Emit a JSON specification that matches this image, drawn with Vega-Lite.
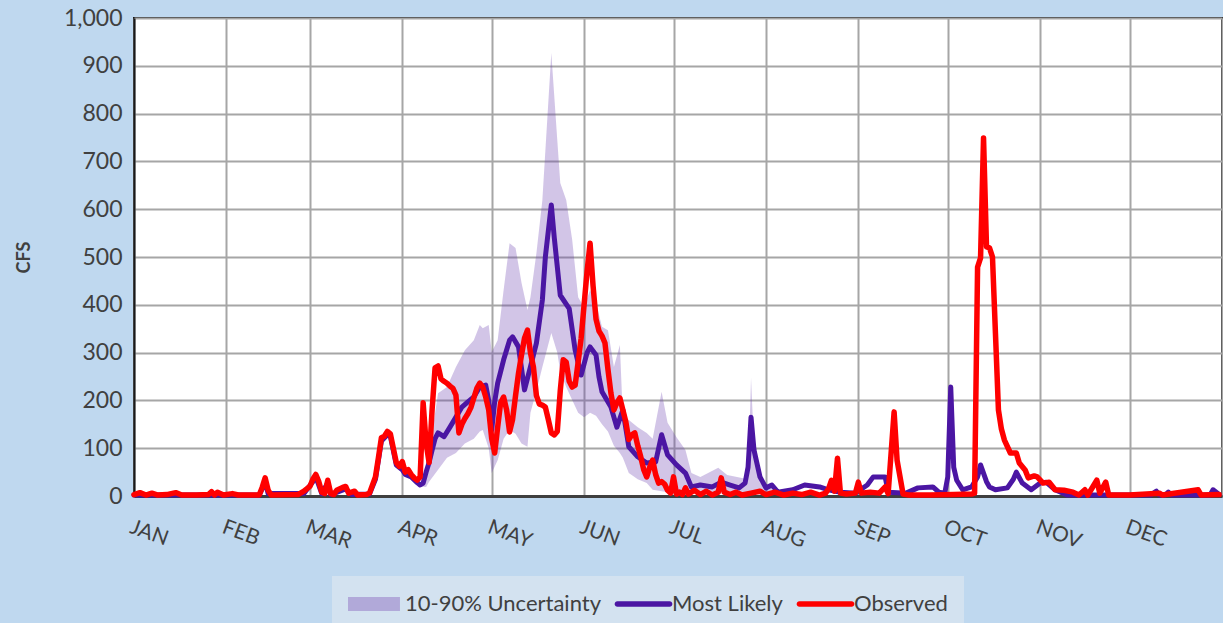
{
  "$schema": "https://vega.github.io/schema/vega-lite/v6.json",
  "width": 1088,
  "height": 478,
  "autosize": "none",
  "padding": {"left": 134, "top": 18, "right": 1, "bottom": 127},
  "background": "#bfd8ef",
  "title": {"text": "Heron Inflow", "fontSize": 40, "fontWeight": "bold", "color": "#404040", "font": "Lato", "anchor": "middle", "frame": "group", "baseline": "bottom", "offset": 0, "dy": 30, "dx": -43},
  "config": {
    "view": {"fill": "white", "stroke": "#1a1a1a", "strokeWidth": 2},
    "font": "Lato"
  },
  "datasets": {
    "obs": [
      {"date": "2023-01-01", "cfs": 3}, {"date": "2023-01-03", "cfs": 7}, {"date": "2023-01-05", "cfs": 2}, {"date": "2023-01-07", "cfs": 6}, {"date": "2023-01-09", "cfs": 2}, {"date": "2023-01-12", "cfs": 3}, {"date": "2023-01-15", "cfs": 7}, {"date": "2023-01-17", "cfs": 2}, {"date": "2023-01-22", "cfs": 2}, {"date": "2023-01-26", "cfs": 3}, {"date": "2023-01-27", "cfs": 9}, {"date": "2023-01-28", "cfs": 2}, {"date": "2023-01-29", "cfs": 8}, {"date": "2023-01-31", "cfs": 2},
      {"date": "2023-02-03", "cfs": 5}, {"date": "2023-02-05", "cfs": 2}, {"date": "2023-02-12", "cfs": 2}, {"date": "2023-02-13", "cfs": 18}, {"date": "2023-02-14", "cfs": 38}, {"date": "2023-02-15", "cfs": 12}, {"date": "2023-02-16", "cfs": 2}, {"date": "2023-02-25", "cfs": 3}, {"date": "2023-02-27", "cfs": 10},
      {"date": "2023-03-01", "cfs": 20}, {"date": "2023-03-02", "cfs": 35}, {"date": "2023-03-03", "cfs": 45}, {"date": "2023-03-04", "cfs": 30}, {"date": "2023-03-05", "cfs": 8}, {"date": "2023-03-06", "cfs": 5}, {"date": "2023-03-07", "cfs": 33}, {"date": "2023-03-08", "cfs": 5}, {"date": "2023-03-09", "cfs": 3}, {"date": "2023-03-10", "cfs": 12}, {"date": "2023-03-12", "cfs": 18}, {"date": "2023-03-13", "cfs": 20}, {"date": "2023-03-14", "cfs": 6}, {"date": "2023-03-16", "cfs": 10}, {"date": "2023-03-17", "cfs": 2}, {"date": "2023-03-20", "cfs": 3}, {"date": "2023-03-21", "cfs": 6}, {"date": "2023-03-23", "cfs": 40}, {"date": "2023-03-24", "cfs": 80}, {"date": "2023-03-25", "cfs": 122}, {"date": "2023-03-26", "cfs": 125}, {"date": "2023-03-27", "cfs": 135}, {"date": "2023-03-28", "cfs": 130}, {"date": "2023-03-29", "cfs": 100}, {"date": "2023-03-30", "cfs": 70}, {"date": "2023-03-31", "cfs": 62},
      {"date": "2023-04-01", "cfs": 72}, {"date": "2023-04-02", "cfs": 50}, {"date": "2023-04-03", "cfs": 55}, {"date": "2023-04-04", "cfs": 45}, {"date": "2023-04-05", "cfs": 38}, {"date": "2023-04-06", "cfs": 33}, {"date": "2023-04-07", "cfs": 40}, {"date": "2023-04-08", "cfs": 195}, {"date": "2023-04-09", "cfs": 110}, {"date": "2023-04-10", "cfs": 70}, {"date": "2023-04-11", "cfs": 180}, {"date": "2023-04-12", "cfs": 268}, {"date": "2023-04-13", "cfs": 272}, {"date": "2023-04-14", "cfs": 245}, {"date": "2023-04-15", "cfs": 240}, {"date": "2023-04-16", "cfs": 236}, {"date": "2023-04-17", "cfs": 230}, {"date": "2023-04-18", "cfs": 225}, {"date": "2023-04-19", "cfs": 211}, {"date": "2023-04-20", "cfs": 132}, {"date": "2023-04-21", "cfs": 150}, {"date": "2023-04-22", "cfs": 162}, {"date": "2023-04-23", "cfs": 172}, {"date": "2023-04-24", "cfs": 185}, {"date": "2023-04-25", "cfs": 205}, {"date": "2023-04-26", "cfs": 225}, {"date": "2023-04-27", "cfs": 236}, {"date": "2023-04-28", "cfs": 228}, {"date": "2023-04-29", "cfs": 207}, {"date": "2023-04-30", "cfs": 180},
      {"date": "2023-05-01", "cfs": 120}, {"date": "2023-05-02", "cfs": 90}, {"date": "2023-05-03", "cfs": 144}, {"date": "2023-05-04", "cfs": 195}, {"date": "2023-05-05", "cfs": 207}, {"date": "2023-05-06", "cfs": 180}, {"date": "2023-05-07", "cfs": 134}, {"date": "2023-05-08", "cfs": 160}, {"date": "2023-05-09", "cfs": 210}, {"date": "2023-05-10", "cfs": 257}, {"date": "2023-05-11", "cfs": 295}, {"date": "2023-05-12", "cfs": 330}, {"date": "2023-05-13", "cfs": 347}, {"date": "2023-05-14", "cfs": 300}, {"date": "2023-05-15", "cfs": 270}, {"date": "2023-05-16", "cfs": 210}, {"date": "2023-05-17", "cfs": 192}, {"date": "2023-05-18", "cfs": 190}, {"date": "2023-05-19", "cfs": 186}, {"date": "2023-05-20", "cfs": 160}, {"date": "2023-05-21", "cfs": 132}, {"date": "2023-05-22", "cfs": 128}, {"date": "2023-05-23", "cfs": 135}, {"date": "2023-05-24", "cfs": 220}, {"date": "2023-05-25", "cfs": 285}, {"date": "2023-05-26", "cfs": 280}, {"date": "2023-05-27", "cfs": 240}, {"date": "2023-05-28", "cfs": 228}, {"date": "2023-05-29", "cfs": 232}, {"date": "2023-05-30", "cfs": 280}, {"date": "2023-05-31", "cfs": 330},
      {"date": "2023-06-01", "cfs": 400}, {"date": "2023-06-02", "cfs": 470}, {"date": "2023-06-03", "cfs": 529}, {"date": "2023-06-04", "cfs": 440}, {"date": "2023-06-05", "cfs": 370}, {"date": "2023-06-06", "cfs": 345}, {"date": "2023-06-07", "cfs": 335}, {"date": "2023-06-08", "cfs": 320}, {"date": "2023-06-09", "cfs": 265}, {"date": "2023-06-10", "cfs": 215}, {"date": "2023-06-11", "cfs": 180}, {"date": "2023-06-12", "cfs": 195}, {"date": "2023-06-13", "cfs": 205}, {"date": "2023-06-14", "cfs": 180}, {"date": "2023-06-15", "cfs": 155}, {"date": "2023-06-16", "cfs": 118}, {"date": "2023-06-17", "cfs": 128}, {"date": "2023-06-18", "cfs": 132}, {"date": "2023-06-19", "cfs": 105}, {"date": "2023-06-20", "cfs": 82}, {"date": "2023-06-21", "cfs": 55}, {"date": "2023-06-22", "cfs": 40}, {"date": "2023-06-23", "cfs": 60}, {"date": "2023-06-24", "cfs": 75}, {"date": "2023-06-25", "cfs": 45}, {"date": "2023-06-26", "cfs": 27}, {"date": "2023-06-27", "cfs": 30}, {"date": "2023-06-28", "cfs": 25}, {"date": "2023-06-29", "cfs": 12}, {"date": "2023-06-30", "cfs": 6},
      {"date": "2023-07-01", "cfs": 40}, {"date": "2023-07-02", "cfs": 4}, {"date": "2023-07-03", "cfs": 8}, {"date": "2023-07-04", "cfs": 3}, {"date": "2023-07-05", "cfs": 17}, {"date": "2023-07-06", "cfs": 4}, {"date": "2023-07-08", "cfs": 12}, {"date": "2023-07-10", "cfs": 3}, {"date": "2023-07-12", "cfs": 10}, {"date": "2023-07-14", "cfs": 2}, {"date": "2023-07-16", "cfs": 8}, {"date": "2023-07-17", "cfs": 38}, {"date": "2023-07-18", "cfs": 8}, {"date": "2023-07-20", "cfs": 3}, {"date": "2023-07-22", "cfs": 8}, {"date": "2023-07-24", "cfs": 2}, {"date": "2023-07-27", "cfs": 6}, {"date": "2023-07-30", "cfs": 10},
      {"date": "2023-08-01", "cfs": 3}, {"date": "2023-08-04", "cfs": 8}, {"date": "2023-08-07", "cfs": 2}, {"date": "2023-08-10", "cfs": 6}, {"date": "2023-08-13", "cfs": 3}, {"date": "2023-08-16", "cfs": 8}, {"date": "2023-08-19", "cfs": 2}, {"date": "2023-08-21", "cfs": 6}, {"date": "2023-08-22", "cfs": 15}, {"date": "2023-08-23", "cfs": 33}, {"date": "2023-08-24", "cfs": 10}, {"date": "2023-08-25", "cfs": 79}, {"date": "2023-08-26", "cfs": 6}, {"date": "2023-08-28", "cfs": 4}, {"date": "2023-08-31", "cfs": 6},
      {"date": "2023-09-01", "cfs": 29}, {"date": "2023-09-02", "cfs": 6}, {"date": "2023-09-05", "cfs": 8}, {"date": "2023-09-08", "cfs": 6}, {"date": "2023-09-10", "cfs": 19}, {"date": "2023-09-11", "cfs": 5}, {"date": "2023-09-13", "cfs": 176}, {"date": "2023-09-14", "cfs": 75}, {"date": "2023-09-16", "cfs": 4}, {"date": "2023-09-18", "cfs": 2}, {"date": "2023-09-25", "cfs": 2},
      {"date": "2023-10-03", "cfs": 3}, {"date": "2023-10-09", "cfs": 4}, {"date": "2023-10-10", "cfs": 6}, {"date": "2023-10-11", "cfs": 479}, {"date": "2023-10-12", "cfs": 498}, {"date": "2023-10-13", "cfs": 749}, {"date": "2023-10-14", "cfs": 521}, {"date": "2023-10-15", "cfs": 519}, {"date": "2023-10-16", "cfs": 500}, {"date": "2023-10-17", "cfs": 340}, {"date": "2023-10-18", "cfs": 180}, {"date": "2023-10-19", "cfs": 140}, {"date": "2023-10-20", "cfs": 117}, {"date": "2023-10-22", "cfs": 90}, {"date": "2023-10-24", "cfs": 90}, {"date": "2023-10-25", "cfs": 69}, {"date": "2023-10-27", "cfs": 54}, {"date": "2023-10-28", "cfs": 38}, {"date": "2023-10-30", "cfs": 42}, {"date": "2023-10-31", "cfs": 40},
      {"date": "2023-11-02", "cfs": 27}, {"date": "2023-11-04", "cfs": 29}, {"date": "2023-11-06", "cfs": 13}, {"date": "2023-11-09", "cfs": 12}, {"date": "2023-11-12", "cfs": 8}, {"date": "2023-11-14", "cfs": 2}, {"date": "2023-11-16", "cfs": 13}, {"date": "2023-11-17", "cfs": 2}, {"date": "2023-11-20", "cfs": 33}, {"date": "2023-11-21", "cfs": 6}, {"date": "2023-11-23", "cfs": 29}, {"date": "2023-11-24", "cfs": 2},
      {"date": "2023-12-01", "cfs": 2}, {"date": "2023-12-11", "cfs": 6}, {"date": "2023-12-12", "cfs": 2}, {"date": "2023-12-24", "cfs": 13}, {"date": "2023-12-25", "cfs": 2}, {"date": "2023-12-31", "cfs": 3}
    ],
    "ml": [
      {"date": "2023-01-01", "cfs": 2}, {"date": "2023-02-12", "cfs": 2}, {"date": "2023-02-13", "cfs": 15}, {"date": "2023-02-14", "cfs": 30}, {"date": "2023-02-15", "cfs": 5}, {"date": "2023-02-27", "cfs": 5}, {"date": "2023-03-02", "cfs": 30}, {"date": "2023-03-03", "cfs": 40}, {"date": "2023-03-05", "cfs": 5}, {"date": "2023-03-07", "cfs": 28}, {"date": "2023-03-08", "cfs": 3}, {"date": "2023-03-13", "cfs": 15}, {"date": "2023-03-15", "cfs": 3}, {"date": "2023-03-21", "cfs": 4}, {"date": "2023-03-23", "cfs": 35}, {"date": "2023-03-25", "cfs": 115}, {"date": "2023-03-27", "cfs": 128}, {"date": "2023-03-28", "cfs": 125}, {"date": "2023-03-30", "cfs": 65},
      {"date": "2023-04-01", "cfs": 55}, {"date": "2023-04-02", "cfs": 45}, {"date": "2023-04-04", "cfs": 40}, {"date": "2023-04-06", "cfs": 28}, {"date": "2023-04-07", "cfs": 23}, {"date": "2023-04-08", "cfs": 27}, {"date": "2023-04-09", "cfs": 50}, {"date": "2023-04-10", "cfs": 70}, {"date": "2023-04-11", "cfs": 96}, {"date": "2023-04-12", "cfs": 120}, {"date": "2023-04-13", "cfs": 132}, {"date": "2023-04-15", "cfs": 124}, {"date": "2023-04-17", "cfs": 144}, {"date": "2023-04-19", "cfs": 165}, {"date": "2023-04-21", "cfs": 186}, {"date": "2023-04-23", "cfs": 197}, {"date": "2023-04-25", "cfs": 207}, {"date": "2023-04-27", "cfs": 228}, {"date": "2023-04-29", "cfs": 232}, {"date": "2023-04-30", "cfs": 200},
      {"date": "2023-05-01", "cfs": 138}, {"date": "2023-05-02", "cfs": 197}, {"date": "2023-05-03", "cfs": 236}, {"date": "2023-05-04", "cfs": 260}, {"date": "2023-05-05", "cfs": 285}, {"date": "2023-05-07", "cfs": 326}, {"date": "2023-05-08", "cfs": 333}, {"date": "2023-05-10", "cfs": 312}, {"date": "2023-05-12", "cfs": 222}, {"date": "2023-05-14", "cfs": 270}, {"date": "2023-05-16", "cfs": 320}, {"date": "2023-05-18", "cfs": 410}, {"date": "2023-05-19", "cfs": 500}, {"date": "2023-05-21", "cfs": 609}, {"date": "2023-05-22", "cfs": 540}, {"date": "2023-05-24", "cfs": 420}, {"date": "2023-05-27", "cfs": 392}, {"date": "2023-05-29", "cfs": 305}, {"date": "2023-05-31", "cfs": 253},
      {"date": "2023-06-02", "cfs": 300}, {"date": "2023-06-03", "cfs": 312}, {"date": "2023-06-05", "cfs": 295}, {"date": "2023-06-06", "cfs": 249}, {"date": "2023-06-07", "cfs": 218}, {"date": "2023-06-10", "cfs": 186}, {"date": "2023-06-12", "cfs": 144}, {"date": "2023-06-14", "cfs": 180}, {"date": "2023-06-16", "cfs": 103}, {"date": "2023-06-19", "cfs": 82}, {"date": "2023-06-22", "cfs": 69}, {"date": "2023-06-25", "cfs": 71}, {"date": "2023-06-27", "cfs": 128}, {"date": "2023-06-29", "cfs": 86},
      {"date": "2023-07-02", "cfs": 65}, {"date": "2023-07-05", "cfs": 48}, {"date": "2023-07-07", "cfs": 19}, {"date": "2023-07-10", "cfs": 23}, {"date": "2023-07-14", "cfs": 19}, {"date": "2023-07-17", "cfs": 29}, {"date": "2023-07-20", "cfs": 23}, {"date": "2023-07-23", "cfs": 17}, {"date": "2023-07-25", "cfs": 27}, {"date": "2023-07-26", "cfs": 60}, {"date": "2023-07-27", "cfs": 165}, {"date": "2023-07-28", "cfs": 96}, {"date": "2023-07-30", "cfs": 40},
      {"date": "2023-08-01", "cfs": 17}, {"date": "2023-08-03", "cfs": 23}, {"date": "2023-08-05", "cfs": 8}, {"date": "2023-08-10", "cfs": 13}, {"date": "2023-08-14", "cfs": 23}, {"date": "2023-08-19", "cfs": 19}, {"date": "2023-08-22", "cfs": 13}, {"date": "2023-08-26", "cfs": 8}, {"date": "2023-08-31", "cfs": 6},
      {"date": "2023-09-04", "cfs": 23}, {"date": "2023-09-06", "cfs": 40}, {"date": "2023-09-10", "cfs": 40}, {"date": "2023-09-11", "cfs": 8}, {"date": "2023-09-17", "cfs": 6}, {"date": "2023-09-21", "cfs": 17}, {"date": "2023-09-26", "cfs": 19}, {"date": "2023-09-28", "cfs": 8}, {"date": "2023-09-30", "cfs": 6},
      {"date": "2023-10-01", "cfs": 40}, {"date": "2023-10-02", "cfs": 228}, {"date": "2023-10-03", "cfs": 60}, {"date": "2023-10-04", "cfs": 33}, {"date": "2023-10-06", "cfs": 13}, {"date": "2023-10-09", "cfs": 19}, {"date": "2023-10-11", "cfs": 40}, {"date": "2023-10-12", "cfs": 65}, {"date": "2023-10-14", "cfs": 30}, {"date": "2023-10-15", "cfs": 19}, {"date": "2023-10-17", "cfs": 13}, {"date": "2023-10-21", "cfs": 17}, {"date": "2023-10-23", "cfs": 35}, {"date": "2023-10-24", "cfs": 50}, {"date": "2023-10-26", "cfs": 27}, {"date": "2023-10-29", "cfs": 13},
      {"date": "2023-11-01", "cfs": 27}, {"date": "2023-11-03", "cfs": 29}, {"date": "2023-11-06", "cfs": 13}, {"date": "2023-11-10", "cfs": 2},
      {"date": "2023-12-08", "cfs": 2}, {"date": "2023-12-10", "cfs": 10}, {"date": "2023-12-11", "cfs": 2}, {"date": "2023-12-13", "cfs": 2}, {"date": "2023-12-14", "cfs": 8}, {"date": "2023-12-15", "cfs": 2}, {"date": "2023-12-28", "cfs": 2}, {"date": "2023-12-29", "cfs": 13}, {"date": "2023-12-31", "cfs": 3}
    ],
    "band": [
      {"date": "2023-04-07", "lo": 20, "hi": 27}, {"date": "2023-04-09", "lo": 19, "hi": 60}, {"date": "2023-04-10", "lo": 30, "hi": 90}, {"date": "2023-04-13", "lo": 55, "hi": 215}, {"date": "2023-04-16", "lo": 80, "hi": 228}, {"date": "2023-04-19", "lo": 90, "hi": 270}, {"date": "2023-04-22", "lo": 110, "hi": 305}, {"date": "2023-04-25", "lo": 120, "hi": 326}, {"date": "2023-04-27", "lo": 135, "hi": 358}, {"date": "2023-04-28", "lo": 138, "hi": 351}, {"date": "2023-04-30", "lo": 100, "hi": 358},
      {"date": "2023-05-01", "lo": 48, "hi": 301}, {"date": "2023-05-03", "lo": 75, "hi": 326}, {"date": "2023-05-05", "lo": 120, "hi": 431}, {"date": "2023-05-07", "lo": 138, "hi": 529}, {"date": "2023-05-09", "lo": 130, "hi": 519}, {"date": "2023-05-11", "lo": 110, "hi": 446}, {"date": "2023-05-13", "lo": 103, "hi": 389}, {"date": "2023-05-14", "lo": 174, "hi": 416}, {"date": "2023-05-16", "lo": 220, "hi": 508}, {"date": "2023-05-18", "lo": 270, "hi": 619}, {"date": "2023-05-21", "lo": 341, "hi": 927}, {"date": "2023-05-23", "lo": 300, "hi": 745}, {"date": "2023-05-24", "lo": 260, "hi": 655}, {"date": "2023-05-26", "lo": 228, "hi": 619}, {"date": "2023-05-28", "lo": 201, "hi": 536}, {"date": "2023-05-30", "lo": 174, "hi": 416},
      {"date": "2023-06-01", "lo": 165, "hi": 395}, {"date": "2023-06-03", "lo": 174, "hi": 431}, {"date": "2023-06-05", "lo": 168, "hi": 404}, {"date": "2023-06-07", "lo": 150, "hi": 354}, {"date": "2023-06-09", "lo": 135, "hi": 347}, {"date": "2023-06-11", "lo": 105, "hi": 270}, {"date": "2023-06-13", "lo": 90, "hi": 316}, {"date": "2023-06-14", "lo": 80, "hi": 165}, {"date": "2023-06-16", "lo": 48, "hi": 159}, {"date": "2023-06-19", "lo": 35, "hi": 144}, {"date": "2023-06-22", "lo": 27, "hi": 132}, {"date": "2023-06-24", "lo": 13, "hi": 120}, {"date": "2023-06-27", "lo": 10, "hi": 218}, {"date": "2023-06-29", "lo": 8, "hi": 153},
      {"date": "2023-07-02", "lo": 6, "hi": 123}, {"date": "2023-07-05", "lo": 5, "hi": 96}, {"date": "2023-07-07", "lo": 5, "hi": 48}, {"date": "2023-07-10", "lo": 5, "hi": 40}, {"date": "2023-07-16", "lo": 5, "hi": 59}, {"date": "2023-07-19", "lo": 5, "hi": 44}, {"date": "2023-07-26", "lo": 5, "hi": 35}, {"date": "2023-07-27", "lo": 5, "hi": 247}, {"date": "2023-07-28", "lo": 5, "hi": 103}, {"date": "2023-07-30", "lo": 3, "hi": 27}, {"date": "2023-08-03", "lo": 3, "hi": 20}
    ],
    "legend": [
      {"date": "2022-06-01", "cfs": 500, "series": "10-90% Uncertainty"},
      {"date": "2022-06-01", "cfs": 500, "series": "Most Likely"},
      {"date": "2022-06-01", "cfs": 500, "series": "Observed"}
    ]
  },
  "layer": [
    {
      "data": {"name": "band"},
      "mark": {"type": "area", "color": "#6a3fb0", "opacity": 0.3},
      "encoding": {
        "x": {
          "field": "date", "type": "temporal",
          "scale": {"type": "utc", "domain": [{"year": 2023, "month": 1, "date": 1, "utc": true}, {"year": 2024, "month": 1, "date": 1, "utc": true}]},
          "axis": {
            "title": null,
            "values": [
              {"year": 2023, "month": 1, "date": 1, "utc": true}, {"year": 2023, "month": 2, "date": 1, "utc": true}, {"year": 2023, "month": 3, "date": 1, "utc": true}, {"year": 2023, "month": 4, "date": 1, "utc": true}, {"year": 2023, "month": 5, "date": 1, "utc": true}, {"year": 2023, "month": 6, "date": 1, "utc": true}, {"year": 2023, "month": 7, "date": 1, "utc": true}, {"year": 2023, "month": 8, "date": 1, "utc": true}, {"year": 2023, "month": 9, "date": 1, "utc": true}, {"year": 2023, "month": 10, "date": 1, "utc": true}, {"year": 2023, "month": 11, "date": 1, "utc": true}, {"year": 2023, "month": 12, "date": 1, "utc": true}, {"year": 2024, "month": 1, "date": 1, "utc": true}
            ],
            "labelExpr": "utcyear(datum.value) > 2023 ? '' : upper(utcFormat(datum.value, '%b'))",
            "grid": true, "gridColor": "#a6a6a6", "gridWidth": 2,
            "domain": true, "domainColor": "#3f3f3f", "domainWidth": 3,
            "ticks": false,
            "labelAngle": 20, "labelAlign": "left", "labelBaseline": "top", "labelPadding": 20, "labelDx": 5,
            "labelFontSize": 21, "labelColor": "#404040", "labelFont": "Lato",
            "labelOverlap": false, "labelBound": false, "labelFlush": false
          }
        },
        "y": {
          "field": "lo", "type": "quantitative",
          "scale": {"domain": [0, 1000], "nice": false},
          "axis": {
            "title": "CFS", "titleFontWeight": "bold", "titleFontSize": 18, "titleColor": "#404040", "titleFont": "Lato", "titlePadding": 30,
            "values": [0, 100, 200, 300, 400, 500, 600, 700, 800, 900, 1000],
            "format": ",d",
            "grid": true, "gridColor": "#a6a6a6", "gridWidth": 2,
            "domain": true, "domainColor": "#1a1a1a", "domainWidth": 2,
            "ticks": false, "labelPadding": 12,
            "labelFontSize": 23, "labelColor": "#404040", "labelFont": "Lato"
          }
        },
        "y2": {"field": "hi"}
      }
    },
    {
      "data": {"name": "ml"},
      "mark": {"type": "line", "color": "#4b16a3", "strokeWidth": 5, "strokeJoin": "round", "strokeCap": "round"},
      "encoding": {
        "x": {"field": "date", "type": "temporal"},
        "y": {"field": "cfs", "type": "quantitative"}
      }
    },
    {
      "data": {"name": "obs"},
      "mark": {"type": "line", "color": "#ff0000", "strokeWidth": 5.5, "strokeJoin": "round", "strokeCap": "round"},
      "encoding": {
        "x": {"field": "date", "type": "temporal"},
        "y": {"field": "cfs", "type": "quantitative"}
      }
    },
    {
      "data": {"name": "legend"},
      "mark": {"type": "point", "filled": true, "opacity": 1, "clip": true},
      "encoding": {
        "x": {"field": "date", "type": "temporal"},
        "y": {"field": "cfs", "type": "quantitative"},
        "color": {
          "field": "series", "type": "nominal",
          "scale": {"domain": ["10-90% Uncertainty", "Most Likely", "Observed"], "range": ["#b1a9d9", "#4b16a3", "#ff0000"]},
          "legend": {"title": null, "orient": "none", "legendX": 198, "legendY": 558, "direction": "horizontal", "fillColor": "#d3e2f0", "padding": 16, "symbolSize": 576, "symbolStrokeWidth": 0, "labelFontSize": 22, "labelColor": "#404040", "labelFont": "Lato", "labelOffset": 33, "columnPadding": 13, "labelLimit": 400}
        },
        "shape": {
          "field": "series", "type": "nominal",
          "scale": {"domain": ["10-90% Uncertainty", "Most Likely", "Observed"], "range": ["M-1,-0.58L3.33,-0.58L3.33,0.58L-1,0.58Z", "M-0.8,-0.23L3.55,-0.23A0.23,0.23 0 0 1 3.55,0.23L-0.8,0.23A0.23,0.23 0 0 1 -0.8,-0.23Z", "M-0.8,-0.23L3.55,-0.23A0.23,0.23 0 0 1 3.55,0.23L-0.8,0.23A0.23,0.23 0 0 1 -0.8,-0.23Z"]},
          "legend": {"title": null, "orient": "none", "legendX": 198, "legendY": 558, "direction": "horizontal", "fillColor": "#d3e2f0", "padding": 16, "symbolSize": 576, "symbolStrokeWidth": 0, "labelFontSize": 22, "labelColor": "#404040", "labelFont": "Lato", "labelOffset": 33, "columnPadding": 13, "labelLimit": 400}
        }
      }
    }
  ]
}
